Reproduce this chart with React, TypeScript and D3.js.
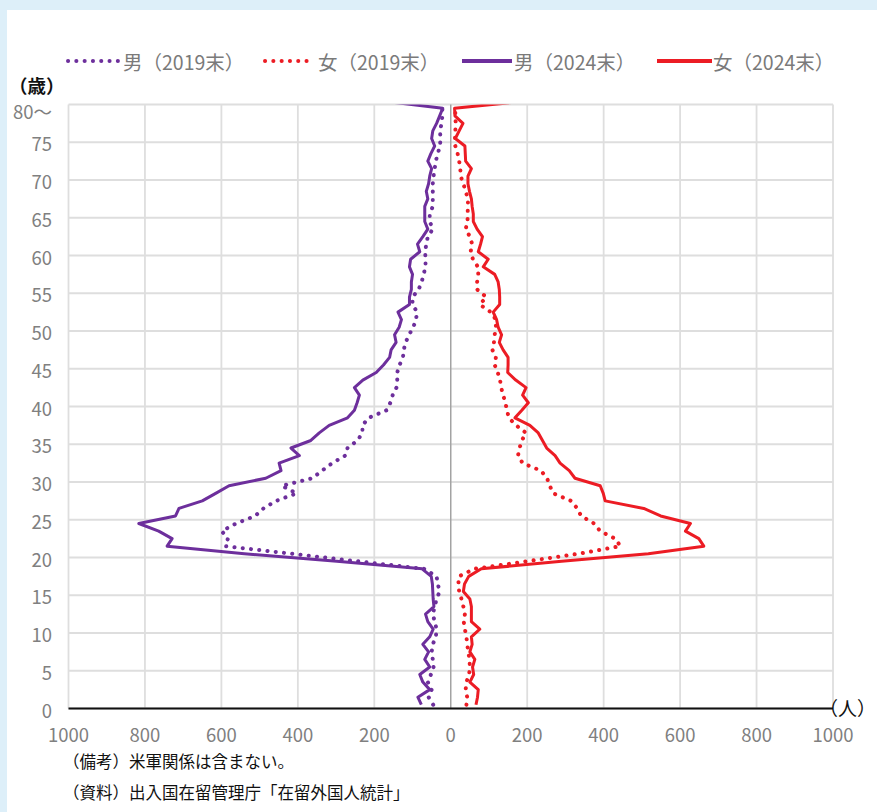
import React from 'react';
import * as d3 from 'd3';

// ── Data (persons by single year of age, 0 … 80～) ─────────────────
const AGE_TICKS = [0, 5, 10, 15, 20, 25, 30, 35, 40, 45, 50, 55, 60, 65, 70, 75, 80];
const AGE_TICK_LABELS = ['0', '5', '10', '15', '20', '25', '30', '35', '40', '45', '50', '55', '60', '65', '70', '75', '80～'];
const X_TICKS = [-1000, -800, -600, -400, -200, 0, 200, 400, 600, 800, 1000];

const MALE_2019: (number | null)[] = [
  46, 58, 50, 60, 52, 45, 47, 50, 47, 39,
  37, 42, 47, 42, 37, 29, 34, 37, 70, 244,
  417, 590, 583, 599, 562, 512, 490, 457, 403, 442,
  362, 337, 310, 276, 270, 244, 231, 231, 215, 168,
  158, 152, 142, 140, 140, 134, 125, 123, 118, 109,
  98, 91, 88, 100, 100, 84, 76, 71, 66, 66,
  67, 64, 60, 47, 55, 55, 47, 47, 47, 47,
  45, 42, 39, 34, 28, 27, 28, 24, 22, 22,
  null,
];
const FEMALE_2019: (number | null)[] = [
  41, 43, 39, 41, 48, 50, 49, 46, 43, 41,
  37, 34, 37, 33, 28, 22, 20, 21, 62, 200,
  335, 444, 430, 391, 375, 341, 331, 315, 268, 259,
  252, 236, 188, 176, 180, 186, 197, 171, 152, 147,
  143, 137, 132, 129, 123, 115, 118, 109, 113, 115,
  118, 118, 105, 76, 93, 69, 69, 72, 71, 58,
  52, 56, 50, 39, 44, 44, 45, 45, 39, 33,
  26, 25, 22, 18, 12, 11, 12, 13, 12, 12,
  null,
];
const MALE_2024: number[] = [
  77, 86, 55, 73, 81, 55, 68, 58, 73, 55,
  46, 60, 66, 44, 46, 47, 48, 51, 75, 298,
  540, 742, 729, 764, 816, 720, 711, 650, 615, 580,
  484, 444, 449, 396, 418, 366, 344, 318, 270, 252,
  245, 239, 252, 230, 195, 176, 160, 156, 143, 147,
  135, 129, 138, 108, 108, 103, 103, 100, 108, 105,
  81, 87, 73, 60, 68, 68, 68, 60, 64, 58,
  55, 50, 60, 52, 42, 50, 47, 37, 29, 21,
  185,
];
const FEMALE_2024: number[] = [
  66, 70, 72, 50, 60, 57, 63, 50, 56, 54,
  76, 54, 54, 54, 50, 33, 36, 47, 80, 290,
  517, 662, 649, 614, 627, 549, 505, 404, 399, 391,
  325, 310, 286, 273, 251, 240, 229, 207, 168, 186,
  203, 188, 197, 170, 149, 150, 150, 137, 127, 133,
  124, 120, 111, 128, 128, 127, 124, 115, 85, 98,
  72, 78, 83, 69, 59, 59, 56, 54, 49, 45,
  45, 54, 39, 38, 37, 12, 22, 32, 11, 10,
  205,
];

const PURPLE = '#6d2f9c';
const RED = '#ec1c24';
const FONT = '"Noto Sans CJK JP", "DejaVu Sans", sans-serif';

type Series = { name: string; values: (number | null)[]; side: number; color: string; dotted: boolean };
const SERIES: Series[] = [
  { name: '男（2019末）', values: MALE_2019, side: -1, color: PURPLE, dotted: true },
  { name: '女（2019末）', values: FEMALE_2019, side: 1, color: RED, dotted: true },
  { name: '男（2024末）', values: MALE_2024, side: -1, color: PURPLE, dotted: false },
  { name: '女（2024末）', values: FEMALE_2024, side: 1, color: RED, dotted: false },
];

const W = 877;
const H = 812;
const PLOT = { left: 68.5, right: 833, top: 104.5, bottom: 708.5 };

export default function App() {
  const x = d3.scaleLinear().domain([-1000, 1000]).range([PLOT.left, PLOT.right]);
  const y = d3.scaleLinear().domain([0, 80]).range([PLOT.bottom, PLOT.top]);

  // points sit in the middle of each one-year band
  const lineFor = (s: Series) =>
    d3.line<number | null>()
      .defined(v => v != null)
      .x(v => x((v as number) * s.side))
      .y((_, i) => y(i + 0.5))(s.values) || '';

  const legendItems = [
    { x0: 68, x1: 118, tx: 123 },
    { x0: 265, x1: 313, tx: 318 },
    { x0: 462, x1: 512, tx: 514 },
    { x0: 657, x1: 712, tx: 713 },
  ];

  const dotStyle = { strokeWidth: 4, strokeDasharray: '0.1 8.2', strokeLinecap: 'round' as const };

  return (
    <>
      <style>{`body{margin:0}`}</style>
      <svg width={W} height={H} style={{ display: 'block', fontFamily: FONT }}>
        <rect width={W} height={H} fill="#ddeff9" />
        <rect x={7} y={10} width={W - 7} height={H - 10} fill="#ffffff" />

        {/* legend */}
        {SERIES.map((s, i) => {
          const it = legendItems[i];
          return (
            <g key={s.name}>
              <line x1={it.x0} x2={it.x1} y1={61} y2={61} stroke={s.color}
                {...(s.dotted ? dotStyle : { strokeWidth: 4 })} />
              <text x={it.tx} y={61} dominantBaseline="central" fontSize={19.5} fill="#7a7a7a">{s.name}</text>
            </g>
          );
        })}

        <text x={9} y={85} dominantBaseline="central" fontSize={18.5} fontWeight={700} fill="#111">（歳）</text>

        {/* grid */}
        {AGE_TICKS.map(a => (
          <line key={'h' + a} x1={PLOT.left} x2={PLOT.right} y1={y(a)} y2={y(a)} stroke="#dedede" strokeWidth={1.8} />
        ))}
        {X_TICKS.filter(v => v !== 0).map(v => (
          <line key={'v' + v} x1={x(v)} x2={x(v)} y1={PLOT.top} y2={PLOT.bottom} stroke="#dedede" strokeWidth={1.8} />
        ))}
        <line x1={x(0)} x2={x(0)} y1={PLOT.top} y2={PLOT.bottom} stroke="#a3a3a3" strokeWidth={1.5} />

        {/* y tick labels */}
        {AGE_TICKS.map((a, i) => (
          <text key={'yl' + a} x={52} y={y(a) + (a === 80 ? 6 : 1)} textAnchor="end" dominantBaseline="central" fontSize={18.5} fill="#808080">
            {AGE_TICK_LABELS[i]}
          </text>
        ))}

        {/* series */}
        <defs>
          <clipPath id="plot-clip">
            <rect x={PLOT.left} y={PLOT.top} width={PLOT.right - PLOT.left} height={PLOT.bottom - PLOT.top} />
          </clipPath>
        </defs>
        <g clipPath="url(#plot-clip)">
          {SERIES.map(s => (
            <path key={s.name} d={lineFor(s)} fill="none" stroke={s.color}
              strokeLinejoin="round"
              {...(s.dotted ? dotStyle : { strokeWidth: 3 })} />
          ))}
        </g>

        {/* x axis */}
        <line x1={PLOT.left} x2={PLOT.right} y1={PLOT.bottom} y2={PLOT.bottom} stroke="#111" strokeWidth={2} />
        {X_TICKS.map(v => (
          <text key={'xl' + v} x={x(v)} y={734} textAnchor="middle" dominantBaseline="central" fontSize={18.5} fill="#808080">
            {Math.abs(v)}
          </text>
        ))}
        <text x={819} y={707} dominantBaseline="central" fontSize={19} fill="#111">（人）</text>

        {/* notes */}
        <text x={63} y={761} dominantBaseline="central" fontSize={16.5} fill="#111">（備考）米軍関係は含まない。</text>
        <text x={63} y={792} dominantBaseline="central" fontSize={16.5} fill="#111">（資料）出入国在留管理庁「在留外国人統計」</text>
      </svg>
    </>
  );
}
